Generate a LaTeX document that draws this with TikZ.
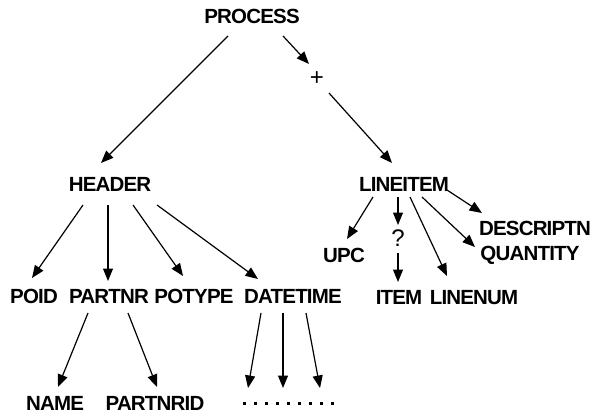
\documentclass[tikz,border=0pt]{standalone}
\usepackage{fontspec}
\setmainfont{Liberation Sans}
\usetikzlibrary{arrows.meta,calc}
\begin{document}
\begin{tikzpicture}[x=1pt,y=-1pt,
  lab/.style={inner sep=0pt,text height=14.6pt,text depth=0pt,anchor=center,font=\fontsize{20.5}{23}\selectfont\bfseries\addfontfeature{LetterSpace=-4}},
  sym/.style={inner sep=0pt,text height=16pt,text depth=0pt,anchor=center,font=\fontsize{24}{26}\selectfont},
  arr/.style={line width=1.2pt,-{Triangle[length=12.5pt,width=10pt]}}]
\useasboundingbox (0,0) rectangle (599,414);
% nodes
\node[lab] (process) at (252,16) {PROCESS};
\node[sym] (plus) at (317,78) {+};
\node[lab] (header) at (110,184) {HEADER};
\node[lab] (lineitem) at (404,184) {LINEITEM};
\node[lab] (poid) at (34,296) {POID};
\node[lab] (partnr) at (109,296) {PARTNR};
\node[lab] (potype) at (194,296) {POTYPE};
\node[lab] (datetime) at (293,296) {DATETIME};
\node[lab] (upc) at (344,255) {UPC};
\node[sym] (q) at (398,238) {?};
\node[lab] (item) at (399,297) {ITEM};
\node[lab] (linenum) at (474,297) {LINENUM};
\node[lab] (descriptn) at (535,228) {DESCRIPTN};
\node[lab] (quantity) at (530,253) {QUANTITY};
\node[lab] (name) at (55,403) {NAME};
\node[lab] (partnrid) at (155,403) {PARTNRID};
\node[inner sep=0pt,minimum width=90pt,minimum height=4pt] (dots) at (288.5,403) {};
\foreach \i in {0,...,8}
  \fill ($(dots.west)+(1.5+\i*10.9,0)$) ++(-1.5,-1.5) rectangle ++(3,3);
% connectors
\draw[arr] ($(process)+(-24,20)$) -- ($(header)+(-9,-21)$);
\draw[arr] ($(process)+(31,20)$) -- ($(plus)+(-8,-14)$);
\draw[arr] ($(plus)+(12,15)$) -- ($(lineitem)+(-12,-21)$);
\draw[arr] ($(header)+(-27,21)$) -- ($(poid)+(-2,-18)$);
\draw[arr] ($(header)+(-2,21)$) -- ($(partnr)+(-1,-15)$);
\draw[arr] ($(header)+(23,21)$) -- ($(potype)+(-11,-20)$);
\draw[arr] ($(header)+(47,21)$) -- ($(datetime)+(-35,-17)$);
\draw[arr] ($(lineitem)+(-31,13)$) -- ($(upc)+(3,-16)$);
\draw[arr] ($(lineitem)+(-6,13)$) -- ($(q)+(0,-13)$);
\draw[arr] ($(q)+(0,15)$) -- ($(item)+(-1,-15)$);
\draw[arr] ($(lineitem)+(6,13)$) -- ($(linenum)+(-27,-21)$);
\draw[arr] ($(lineitem)+(18,13)$) -- ($(quantity)+(-55,-6)$);
\draw[arr] ($(lineitem)+(43,6)$) -- ($(descriptn)+(-53,-15)$);
\draw[arr] ($(partnr)+(-21,17)$) -- ($(name)+(3,-16)$);
\draw[arr] ($(partnr)+(19,17)$) -- ($(partnrid)+(2,-16)$);
\draw[arr] ($(datetime)+(-32,17)$) -- ($(dots)+(-40.5,-15)$);
\draw[arr] ($(datetime)+(-10,17)$) -- ($(dots)+(-5.5,-15)$);
\draw[arr] ($(datetime)+(13,17)$) -- ($(dots)+(31.5,-15)$);
\end{tikzpicture}
\end{document}
